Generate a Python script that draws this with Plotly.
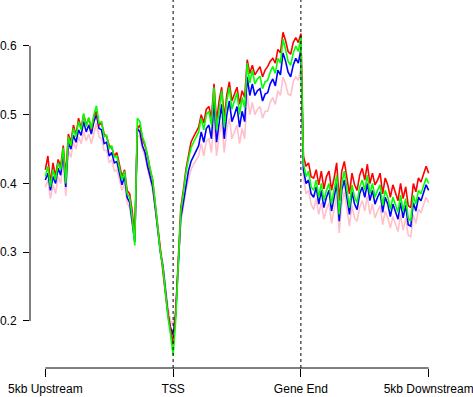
import plotly.graph_objects as go

# bin positions along the meta-gene (0 = 5kb upstream, 100 = TSS, 200 = gene end, 300 = 5kb downstream)
bins = list(range(0, 301, 2))

tick_positions = [0, 100, 200, 300]
tick_labels = ["5kb Upstream", "TSS", "Gene End", "5kb Downstream"]
y_ticks = [0.2, 0.3, 0.4, 0.5, 0.6]

green = [
    0.41, 0.425, 0.395, 0.42, 0.405, 0.43, 0.42, 0.452, 0.40, 0.468, 0.455, 0.48, 0.468, 0.49, 0.478, 0.502,
    0.483, 0.496, 0.48, 0.50, 0.513, 0.488, 0.49, 0.468, 0.47, 0.45, 0.455, 0.438, 0.44, 0.422, 0.405, 0.418,
    0.385, 0.38, 0.35, 0.31, 0.495, 0.49, 0.468, 0.458, 0.44, 0.418, 0.405, 0.372, 0.34, 0.30, 0.278, 0.24,
    0.205, 0.18, 0.15,
    0.20, 0.29, 0.36, 0.385, 0.415, 0.435, 0.452, 0.46, 0.468, 0.475, 0.495, 0.478, 0.50, 0.505, 0.485, 0.54,
    0.478, 0.51, 0.535, 0.482, 0.52, 0.54, 0.508, 0.52, 0.532, 0.50, 0.525, 0.51, 0.575, 0.546, 0.565, 0.545,
    0.552, 0.556, 0.538, 0.548, 0.55, 0.562, 0.57, 0.56, 0.582, 0.575, 0.61, 0.595, 0.578, 0.572, 0.59, 0.60,
    0.592, 0.613,
    0.43, 0.41, 0.418, 0.395, 0.39, 0.405, 0.38, 0.40, 0.375, 0.39, 0.40, 0.37, 0.39, 0.412, 0.355, 0.40,
    0.418, 0.39, 0.365, 0.398, 0.38, 0.372, 0.395, 0.405, 0.39, 0.412, 0.385, 0.40, 0.38, 0.39, 0.398, 0.368,
    0.39, 0.38, 0.362, 0.38, 0.37, 0.358, 0.383, 0.36, 0.378, 0.35, 0.345, 0.383, 0.37, 0.39, 0.385, 0.395,
    0.408, 0.40,
]

red = [
    0.42, 0.44, 0.40, 0.43, 0.41, 0.435, 0.425, 0.455, 0.41, 0.472, 0.46, 0.485, 0.47, 0.495, 0.48, 0.50,
    0.485, 0.495, 0.478, 0.497, 0.505, 0.485, 0.488, 0.472, 0.468, 0.455, 0.452, 0.44, 0.445, 0.425, 0.41, 0.42,
    0.39, 0.385, 0.36, 0.32, 0.48, 0.485, 0.465, 0.455, 0.44, 0.42, 0.405, 0.37, 0.335, 0.30, 0.275, 0.24,
    0.21, 0.185, 0.165,
    0.21, 0.295, 0.365, 0.39, 0.42, 0.44, 0.46, 0.468, 0.475, 0.482, 0.50, 0.488, 0.508, 0.512, 0.495, 0.545,
    0.49, 0.52, 0.54, 0.495, 0.528, 0.548, 0.52, 0.53, 0.54, 0.515, 0.535, 0.525, 0.58, 0.56, 0.572, 0.558,
    0.565, 0.57, 0.555, 0.565, 0.57, 0.578, 0.582, 0.575, 0.595, 0.59, 0.62, 0.608, 0.592, 0.588, 0.605, 0.612,
    0.605, 0.618,
    0.44, 0.425, 0.43, 0.41, 0.408, 0.42, 0.398, 0.418, 0.392, 0.41, 0.418, 0.39, 0.408, 0.43, 0.375, 0.418,
    0.432, 0.405, 0.385, 0.415, 0.398, 0.39, 0.412, 0.422, 0.405, 0.428, 0.40, 0.415, 0.398, 0.405, 0.415, 0.385,
    0.408, 0.398, 0.38, 0.398, 0.388, 0.375, 0.40, 0.378, 0.395, 0.368, 0.365, 0.40, 0.388, 0.408, 0.402, 0.412,
    0.425, 0.415,
]

blue = [
    0.405, 0.415, 0.39, 0.41, 0.40, 0.422, 0.412, 0.445, 0.395, 0.46, 0.45, 0.47, 0.46, 0.478, 0.47, 0.49,
    0.475, 0.485, 0.472, 0.49, 0.50, 0.48, 0.478, 0.458, 0.46, 0.44, 0.445, 0.43, 0.432, 0.415, 0.398, 0.41,
    0.38, 0.372, 0.345, 0.315, 0.48, 0.475, 0.455, 0.445, 0.425, 0.41, 0.395, 0.365, 0.335, 0.30, 0.28, 0.245,
    0.21, 0.19, 0.18,
    0.21, 0.285, 0.35, 0.372, 0.398, 0.418, 0.432, 0.44, 0.448, 0.455, 0.475, 0.46, 0.48, 0.485, 0.465, 0.52,
    0.46, 0.49, 0.515, 0.465, 0.50, 0.52, 0.49, 0.50, 0.512, 0.482, 0.505, 0.49, 0.555, 0.528, 0.545, 0.528,
    0.535, 0.538, 0.52, 0.53, 0.532, 0.545, 0.552, 0.542, 0.565, 0.558, 0.59, 0.578, 0.562, 0.555, 0.572, 0.582,
    0.575, 0.595,
    0.42, 0.40, 0.405, 0.385, 0.38, 0.395, 0.37, 0.39, 0.365, 0.38, 0.39, 0.36, 0.38, 0.40, 0.345, 0.39,
    0.405, 0.38, 0.355, 0.388, 0.37, 0.362, 0.385, 0.395, 0.38, 0.40, 0.375, 0.39, 0.37, 0.38, 0.388, 0.358,
    0.38, 0.37, 0.352, 0.37, 0.36, 0.348, 0.372, 0.35, 0.368, 0.34, 0.338, 0.372, 0.36, 0.38, 0.375, 0.385,
    0.398, 0.39,
]

pink = [
    0.395, 0.405, 0.378, 0.398, 0.385, 0.41, 0.40, 0.432, 0.382, 0.448, 0.438, 0.46, 0.45, 0.468, 0.458, 0.475,
    0.462, 0.472, 0.458, 0.475, 0.488, 0.468, 0.465, 0.448, 0.448, 0.43, 0.435, 0.418, 0.42, 0.405, 0.39, 0.40,
    0.372, 0.365, 0.34, 0.315, 0.47, 0.468, 0.45, 0.44, 0.422, 0.405, 0.39, 0.365, 0.335, 0.305, 0.285, 0.25,
    0.22, 0.20, 0.195,
    0.22, 0.285, 0.345, 0.365, 0.39, 0.405, 0.42, 0.428, 0.435, 0.44, 0.458, 0.44, 0.462, 0.465, 0.445, 0.495,
    0.44, 0.47, 0.49, 0.445, 0.478, 0.495, 0.465, 0.475, 0.485, 0.458, 0.48, 0.465, 0.53, 0.50, 0.518, 0.50,
    0.508, 0.512, 0.495, 0.505, 0.505, 0.518, 0.525, 0.515, 0.535, 0.528, 0.555, 0.545, 0.53, 0.528, 0.548, 0.555,
    0.55, 0.568,
    0.41, 0.385, 0.39, 0.37, 0.362, 0.378, 0.355, 0.372, 0.348, 0.362, 0.372, 0.342, 0.36, 0.382, 0.328, 0.37,
    0.388, 0.36, 0.338, 0.368, 0.35, 0.345, 0.365, 0.375, 0.36, 0.382, 0.355, 0.37, 0.35, 0.36, 0.368, 0.34,
    0.36, 0.35, 0.335, 0.352, 0.342, 0.33, 0.355, 0.332, 0.35, 0.325, 0.322, 0.355, 0.342, 0.362, 0.358, 0.368,
    0.38, 0.372,
]

series = [("pink", pink, "#FFC0CB"), ("blue", blue, "#0000FF"), ("red", red, "#FF0000"), ("green", green, "#00FF00")]

fig = go.Figure()
for name, vals, col in series:
    fig.add_trace(go.Scatter(x=bins, y=vals, mode="lines", name=name,
                             line=dict(color=col, width=1.6), showlegend=False, hoverinfo="skip"))

shapes = []
# dotted markers at TSS and Gene End
for xv in [100, 200]:
    shapes.append(dict(type="line", xref="x", yref="paper", x0=xv, x1=xv, y0=0, y1=1,
                       line=dict(color="black", width=1, dash="dot")))
# R-style axis lines spanning only the tick range
shapes.append(dict(type="line", xref="x", yref="paper", x0=tick_positions[0], x1=tick_positions[-1], y0=0, y1=0,
                   line=dict(color="black", width=1)))
shapes.append(dict(type="line", xref="paper", yref="y", x0=0, x1=0, y0=y_ticks[0], y1=y_ticks[-1],
                   line=dict(color="black", width=1)))

fig.update_layout(
    width=473, height=397,
    margin=dict(l=30, r=29, t=0, b=29, autoexpand=False),
    paper_bgcolor="white", plot_bgcolor="white",
    font=dict(family="Liberation Sans, Arial, sans-serif", size=12, color="black"),
    shapes=shapes,
    xaxis=dict(range=[-12, 312], tickvals=tick_positions, ticktext=tick_labels, showgrid=False, zeroline=False,
               showline=False, ticks="outside", ticklen=8, tickcolor="black", tickwidth=1,
               ticklabelstandoff=2, automargin=False, ticklabeloverflow="allow"),
    yaxis=dict(range=[0.1316, 0.6669], tickvals=y_ticks, ticktext=["0.2", "0.3", "0.4", "0.5", "0.6"],
               showgrid=False, zeroline=False, showline=False, ticks="outside", ticklen=6, tickcolor="black",
               tickwidth=1, ticklabelstandoff=4, automargin=False, ticklabeloverflow="allow"),
)

fig.write_html("out.html", config={"displayModeBar": False, "staticPlot": True},
               post_script="document.body.style.margin='0';document.body.style.overflow='hidden';")
